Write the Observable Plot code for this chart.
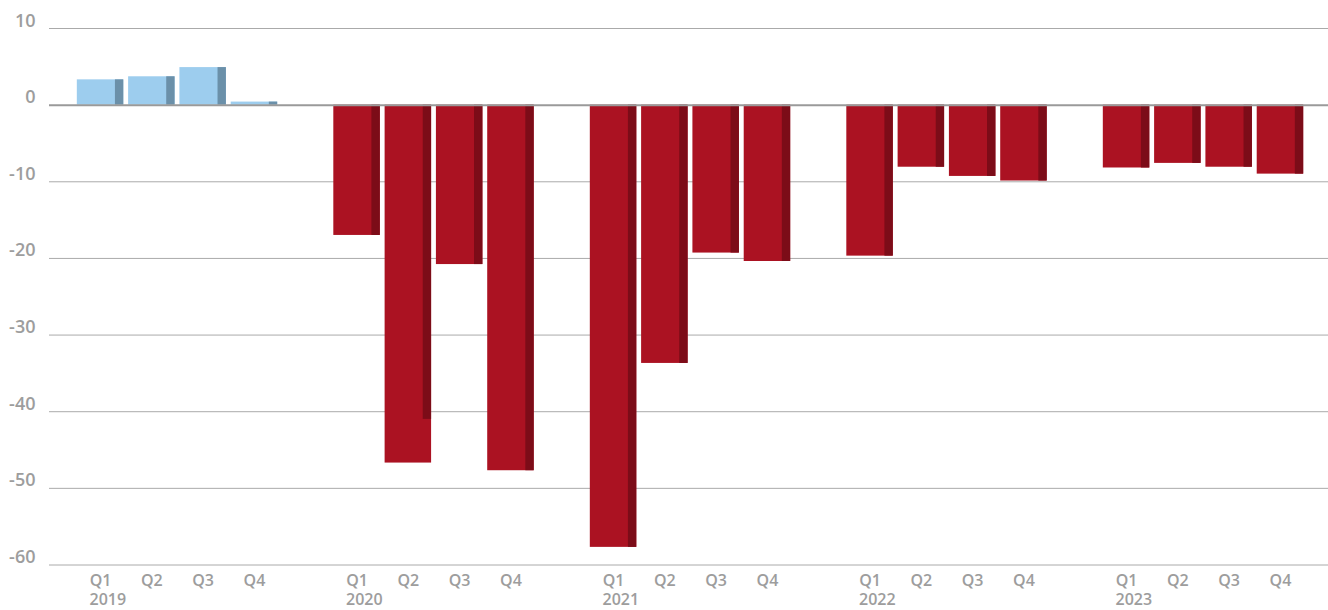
<!DOCTYPE html>
<html>
<head>
<meta charset="utf-8">
<script src="https://cdn.jsdelivr.net/npm/d3@7"></script>
<script src="https://cdn.jsdelivr.net/npm/@observablehq/plot@0.6"></script>
<style>
  html, body { margin: 0; padding: 0; background: #fff; }
  #chart svg { display: block; }
</style>
</head>
<body>
<div id="chart"></div>
<script>
const years = ["2019", "2020", "2021", "2022", "2023"];
const quarters = ["Q1", "Q2", "Q3", "Q4"];
const yTicks = [10, 0, -10, -20, -30, -40, -50, -60];
// main (wide) bar values, per year, Q1..Q4
const mainValues = [
  3.3, 3.7, 4.9, 0.4,
  -17.0, -46.7, -20.8, -47.7,
  -57.7, -33.7, -19.3, -20.4,
  -19.7, -8.1, -9.3, -9.9,
  -8.2, -7.6, -8.1, -9.0
];
// narrow (dark) bar values
const sideValues = [
  3.3, 3.7, 4.9, 0.4,
  -17.0, -41.0, -20.8, -47.7,
  -57.7, -33.7, -19.3, -20.4,
  -19.7, -8.1, -9.3, -9.9,
  -8.2, -7.6, -8.1, -9.0
];

const data = mainValues.map((v, i) => {
  const yi = Math.floor(i / 4), qi = i % 4;
  return {
    year: years[yi], q: quarters[qi], slot: yi * 5 + qi,
    main: v, side: sideValues[i]
  };
});
const firstQ = data.filter(d => d.q === "Q1");

const gray = "#9d9d9d";
const font = "'Open Sans', sans-serif";

const chart = Plot.plot({
  width: 1328,
  height: 610,
  marginTop: 28,
  marginBottom: 45.5,
  marginLeft: 49,
  marginRight: 0,
  style: { fontFamily: font, background: "#fff" },
  x: { type: "linear", domain: [-0.5, 23.5], range: [74.4, 1305.6], axis: null },
  y: { domain: [-60, 10], axis: null },
  marks: [
    Plot.ruleY(yTicks.filter(t => t !== 0), { stroke: "#aaaaaa", strokeWidth: 1 }),
    Plot.rectY(data, {
      x1: d => d.slot - 0.453, x2: d => d.slot + 0.453,
      y1: 0, y2: "main",
      fill: d => d.main >= 0 ? "#9dcdee" : "#ab1222"
    }),
    Plot.rectY(data, {
      x1: d => d.slot + 0.29, x2: d => d.slot + 0.453,
      y1: 0, y2: "side",
      fill: d => d.side >= 0 ? "#6b90a9" : "#7c0c18"
    }),
    Plot.ruleY([0], { stroke: "#9a9a9a", strokeWidth: 2 }),
    Plot.text(yTicks, {
      y: d => d, text: d => String(d),
      frameAnchor: "left", textAnchor: "end", lineAnchor: "bottom",
      dx: -14, dy: -2, fill: gray, fontSize: 18, fontWeight: 600
    }),
    Plot.text(data, {
      x: "slot", text: "q",
      frameAnchor: "bottom", lineAnchor: "middle", dy: 16,
      fill: gray, fontSize: 16, fontWeight: 600
    }),
    Plot.text(firstQ, {
      x: "slot", text: "year",
      frameAnchor: "bottom", lineAnchor: "middle", textAnchor: "start",
      dx: -11, dy: 35, fill: gray, fontSize: 16, fontWeight: 600
    })
  ]
});
document.getElementById("chart").appendChild(chart);
</script>
</body>
</html>
